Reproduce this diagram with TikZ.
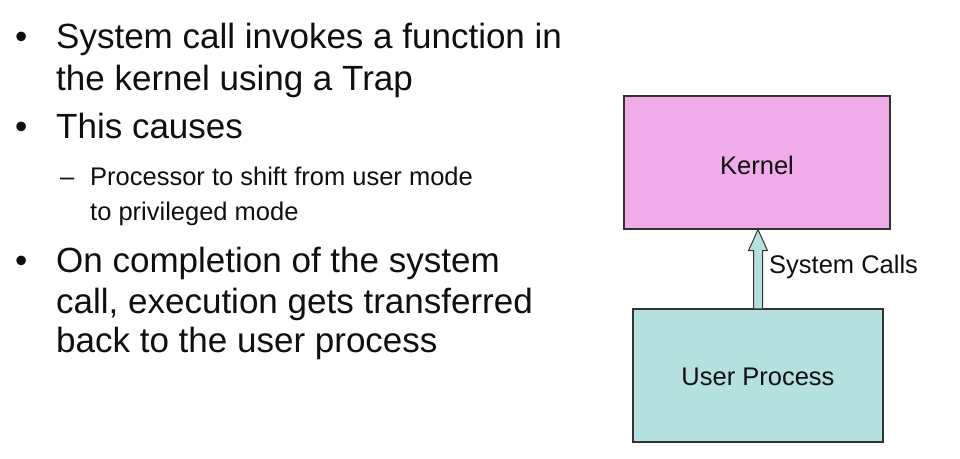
\documentclass[tikz,border=0pt]{standalone}
\usepackage{fontspec}
\setmainfont{Liberation Sans}
\usetikzlibrary{calc}
\definecolor{kernfill}{RGB}{240,172,232}
\definecolor{userfill}{RGB}{180,224,224}
\definecolor{edge}{RGB}{50,50,50}
\definecolor{ink}{RGB}{15,15,15}
\tikzset{
  mainline/.style={anchor=base west,inner sep=0pt,text=ink,font=\fontsize{35}{40}\selectfont},
  subline/.style={anchor=base west,inner sep=0pt,text=ink,font=\fontsize{25.5}{30}\selectfont},
  boxtext/.style={text=ink,font=\fontsize{25.5}{30}\selectfont},
  layerbox/.style={draw=edge,line width=1.2pt,rectangle,inner sep=0pt},
  fatarrow/.style={draw=edge,line width=1pt,fill=userfill,line join=miter}
}
\begin{document}
\begin{tikzpicture}[x=1pt,y=-1pt]
\useasboundingbox (0,0) rectangle (960,458);
\fill[white] (0,0) rectangle (960,458);
% bullets
\node[mainline] (b1) at (15,48) {•};
\node[mainline] (l1) at (56,48) {System call invokes a function in};
\node[mainline] (l2) at (56,90) {the kernel using a Trap};
\node[mainline] (b2) at (15,138) {•};
\node[mainline] (l3) at (56,138) {This causes};
\node[subline] (d1) at (60,185) {–};
\node[subline] (s1) at (90,185) {Processor to shift from user mode};
\node[subline] (s2) at (90,220) {to privileged mode};
\node[mainline] (b3) at (15,272) {•};
\node[mainline] (l4) at (56,272) {On completion of the system};
\node[mainline] (l5) at (56,313) {call, execution gets transferred};
\node[mainline] (l6) at (56,352) {back to the user process};
% diagram
\node[layerbox,fill=kernfill,minimum width=266pt,minimum height=133pt] (k) at (757,162.5) {};
\node[boxtext] (kt) at (757,165) {Kernel};
\node[layerbox,fill=userfill,minimum width=250pt,minimum height=133pt] (u) at (758,375.5) {};
\node[boxtext] (ut) at (758,377) {User Process};
\coordinate (tip) at (u.north |- k.south);
\draw[fatarrow] ($(u.north)+(-4.5,0)$) -- ($(tip)+(-4.5,21)$) -- ($(tip)+(-9.5,21)$) -- (tip)
  -- ($(tip)+(9.5,21)$) -- ($(tip)+(4.5,21)$) -- ($(u.north)+(4.5,0)$);
\node[subline] (lbl) at (769,273) {System Calls};
\end{tikzpicture}
\end{document}
